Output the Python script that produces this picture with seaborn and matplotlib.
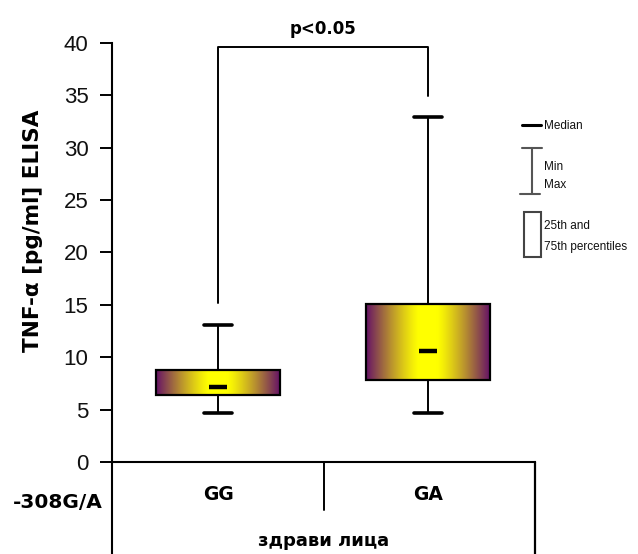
import numpy as np
import pandas as pd
import matplotlib
matplotlib.use("Agg")
import matplotlib.pyplot as plt
import seaborn as sns
from matplotlib.lines import Line2D
from matplotlib.patches import Rectangle

# Five-number summaries of TNF-alpha (pg/ml) per -308G/A genotype
genotypes = ["GG", "GA"]
minimum = [4.7, 4.7]
q1 = [6.4, 7.8]
median = [7.2, 10.6]
q3 = [8.8, 15.1]
maximum = [13.1, 32.9]
y_ticks = [0, 5, 10, 15, 20, 25, 30, 35, 40]

# Bracket for the significance mark
bracket_left_bottom = 15.2
bracket_right_bottom = 34.9
bracket_top = 39.6

# With whis=(0, 100) the five values reproduce min/Q1/median/Q3/max exactly
rows = []
for g, a, b, c, d, e in zip(genotypes, minimum, q1, median, q3, maximum):
    for v in (a, b, c, d, e):
        rows.append((g, v))
df = pd.DataFrame(rows, columns=["genotype", "tnf"])

sns.set_style("white")
plt.rcParams["font.family"] = ["DejaVu Sans"]
plt.rcParams["text.color"] = "black"

W, H = 638, 554
fig = plt.figure(figsize=(W / 100, H / 100), dpi=100)
ax = fig.add_axes([112 / W, 92 / H, 423 / W, 419 / H])


def fig_xy(x, y):
    return x / W, 1 - y / H


box_w = 0.59
sns.boxplot(
    data=df, x="genotype", y="tnf", order=genotypes,
    whis=(0, 100), width=box_w, showfliers=False,
    color="#ffff00", linecolor="black", linewidth=1.5,
    medianprops=dict(linewidth=3.2, color="black"),
    capprops=dict(linewidth=2.6, color="black"),
    whiskerprops=dict(linewidth=1.4, color="black"),
    boxprops=dict(linewidth=1.6, edgecolor="black"),
    capwidths=0.13,
    ax=ax,
)

# Horizontal purple-yellow-purple gradient inside each box
purple = np.array([0.40, 0.07, 0.40])
yellow = np.array([1.0, 1.0, 0.0])
xs = np.linspace(-1, 1, 256)
t = np.clip((np.abs(xs) - 0.15) / 0.85, 0, 1) ** 1.2
grad = yellow[None, :] * (1 - t[:, None]) + purple[None, :] * t[:, None]
grad_img = grad[None, :, :]
for patch in list(ax.patches):
    ext = patch.get_path().get_extents()
    patch.set_facecolor("none")
    im = ax.imshow(grad_img, extent=[ext.x0, ext.x1, ext.y0, ext.y1],
                   aspect="auto", zorder=patch.get_zorder() - 0.1,
                   interpolation="bilinear")
    im.set_clip_path(patch)

# Short median bars
for ln in ax.lines:
    xd, yd = np.asarray(ln.get_xdata(), float), np.asarray(ln.get_ydata(), float)
    if len(yd) == 2 and yd[0] == yd[1] and np.any(np.isclose(yd[0], median)):
        c = xd.mean()
        if abs(xd[1] - xd[0]) > 0.3:
            ln.set_xdata([c - 0.043, c + 0.043])

ax.set_xlim(-0.505, 1.51)
ax.set_ylim(0, 40)
ax.set_yticks(y_ticks)
ax.set_yticklabels([str(v) for v in y_ticks], fontsize=16, family="Liberation Sans",
                   color="#111111")
ax.tick_params(axis="y", left=True, length=9, width=1.4, direction="out", pad=8,
               color="black")
ax.set_xticks([])
ax.set_xlabel("")
ax.set_ylabel("")
for side in ("top", "right"):
    ax.spines[side].set_visible(False)
for side in ("left", "bottom"):
    ax.spines[side].set_color("black")
    ax.spines[side].set_linewidth(1.5)

# Significance bracket
ax.plot([0, 0, 1, 1], [bracket_left_bottom, bracket_top, bracket_top, bracket_right_bottom],
        color="black", lw=1.4, clip_on=False)
ax.text(0.5, 41.3, "p<0.05", ha="center", va="center", fontsize=12,
        fontweight="bold", clip_on=False)

# Category table under the axis
ax.text(0, -3.1, "GG", ha="center", va="center", fontsize=13.5, fontweight="bold")
ax.text(1, -3.1, "GA", ha="center", va="center", fontsize=13.5, fontweight="bold")
ax.plot([0.505, 0.505], [0, -4.6], color="black", lw=1.4, clip_on=False)
ax.plot([1.51, 1.51], [0, -8.9], color="black", lw=1.6, clip_on=False)
ax.plot([-0.505, -0.505], [0, -8.9], color="black", lw=1.5, clip_on=False)

fig.text(*fig_xy(58, 503), "-308G/A", ha="center", va="center", fontsize=14.5,
         fontweight="bold")
fig.text(*fig_xy(324, 541), "здрави лица", ha="center", va="center", fontsize=13,
         fontweight="bold")
fig.text(*fig_xy(33, 231), "TNF-α [pg/ml] ELISA", ha="center", va="center",
         rotation=90, fontsize=15.5, fontweight="bold")

# Key on the right
small = dict(fontsize=8.5, family=["Liberation Sans Narrow", "Liberation Sans"],
             va="center", ha="left", color="#111111")
fig.add_artist(Line2D([522 / W, 541 / W], [1 - 125 / H] * 2, color="black", lw=2.2))
fig.text(*fig_xy(544, 126), "Median", **small)
gray = "#555555"
fig.add_artist(Line2D([532 / W] * 2, [1 - 148 / H, 1 - 194 / H], color=gray, lw=1.5))
fig.add_artist(Line2D([522 / W, 542 / W], [1 - 148 / H] * 2, color=gray, lw=1.5))
fig.add_artist(Line2D([520 / W, 540 / W], [1 - 194 / H] * 2, color=gray, lw=1.5))
fig.text(*fig_xy(544, 167), "Min", **small)
fig.text(*fig_xy(544, 185), "Max", **small)
fig.add_artist(Rectangle(fig_xy(524, 257), 17 / W, 45 / H, facecolor="white",
                         edgecolor="#444444", lw=1.5, transform=fig.transFigure))
fig.text(*fig_xy(544, 226), "25th and", **small)
fig.text(*fig_xy(544, 247), "75th percentiles", **small)

fig.savefig("out.png", dpi=100)
